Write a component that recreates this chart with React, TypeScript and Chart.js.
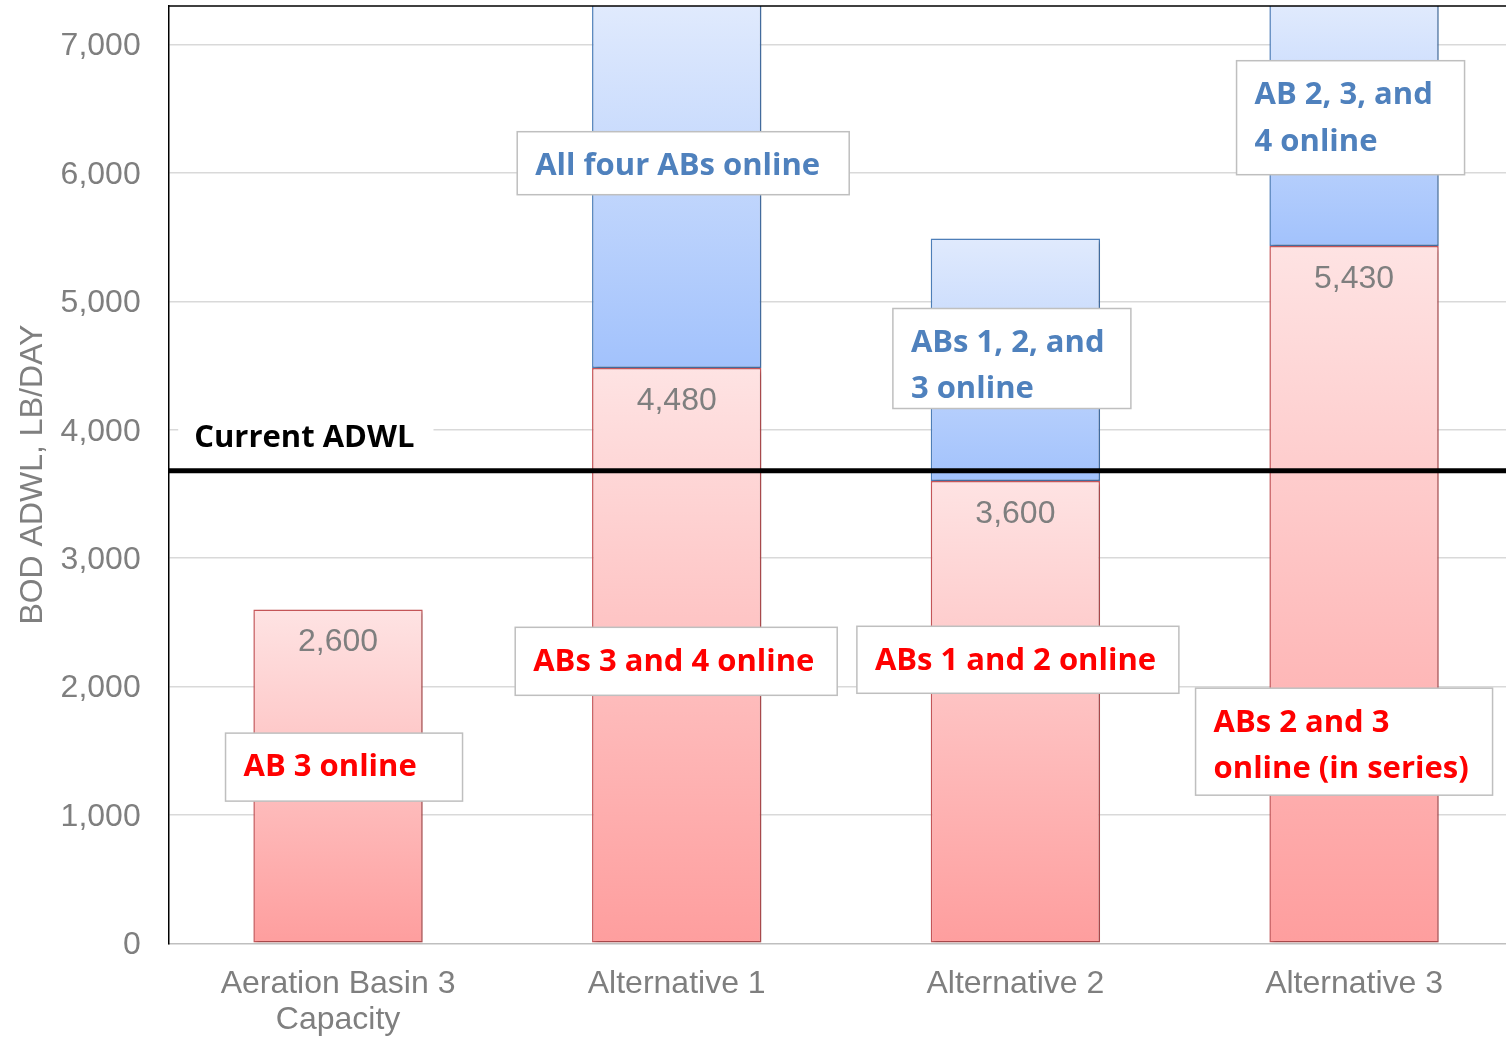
import React, { useEffect, useRef } from "react";
import { Chart, registerables } from "chart.js";

Chart.register(...registerables);

// ---------- data ----------
const CATEGORIES: (string | string[])[] = [
  ["Aeration Basin 3", "Capacity"],
  "Alternative 1",
  "Alternative 2",
  "Alternative 3",
];
const ONLINE_CAPACITY = [2600, 4480, 3600, 5430];
const ADDITIONAL_CAPACITY: (number | null)[] = [null, 3000, 1890, 2000];
const CURRENT_ADWL = 3680;
const Y_MIN = 0;
const Y_MAX = 7300;
const Y_TICKS = [0, 1000, 2000, 3000, 4000, 5000, 6000, 7000];
const Y_TITLE = "BOD ADWL, LB/DAY";
const ADWL_LABEL = "Current ADWL";

const RED_TEXT = "#ff0000";
const BLUE_TEXT = "#4f81bd";

// annotation boxes: anchored to a category and a value (box top), px offsets for layout
const NOTES = [
  { cat: 0, value: 1637, dx: -112.5, w: 237, h: 68, lines: ["AB 3 online"], color: RED_TEXT },
  { cat: 1, value: 6321, dx: -159.5, w: 332, h: 63, lines: ["All four ABs online"], color: BLUE_TEXT },
  { cat: 1, value: 2461, dx: -161.5, w: 322, h: 68, lines: ["ABs 3 and 4 online"], color: RED_TEXT },
  { cat: 2, value: 2469, dx: -158.5, w: 322, h: 67, lines: ["ABs 1 and 2 online"], color: RED_TEXT },
  { cat: 2, value: 4944, dx: -122.5, w: 238, h: 100, lines: ["ABs 1, 2, and", "3 online"], color: BLUE_TEXT },
  { cat: 3, value: 6874, dx: -117.5, w: 228, h: 114, lines: ["AB 2, 3, and", "4 online"], color: BLUE_TEXT },
  { cat: 3, value: 1987, dx: -158.5, w: 297, h: 107, lines: ["ABs 2 and 3", "online (in series)"], color: RED_TEXT },
];

const SANS = "'Liberation Sans', Arial, sans-serif";
const BOLD = "'Open Sans', 'DejaVu Sans', sans-serif";
const GRAY = "#7f7f7f";

function makeGradient(chart: any, yTop: number, yBottom: number, c1: string, c2: string) {
  const g = chart.ctx.createLinearGradient(0, yTop, 0, yBottom);
  g.addColorStop(0, c1);
  g.addColorStop(1, c2);
  return g;
}

const shadowPlugin = {
  id: "barShadow",
  beforeDatasetDraw(chart: any) {
    const ctx = chart.ctx;
    ctx.save();
    ctx.shadowColor = "rgba(0,0,0,0.22)";
    ctx.shadowBlur = 4;
    ctx.shadowOffsetX = 2;
    ctx.shadowOffsetY = 2;
  },
  afterDatasetDraw(chart: any) {
    chart.ctx.restore();
  },
};

const overlayPlugin = {
  id: "overlay",
  afterDatasetsDraw(chart: any) {
    const ctx = chart.ctx;
    const area = chart.chartArea;
    const y = chart.scales.y;
    ctx.save();
    // top border
    ctx.strokeStyle = "#000";
    ctx.lineWidth = 1.5;
    ctx.beginPath();
    ctx.moveTo(area.left, area.top);
    ctx.lineTo(area.right, area.top);
    ctx.stroke();

    // data labels
    const meta = chart.getDatasetMeta(0);
    ctx.font = `32px ${SANS}`;
    ctx.fillStyle = GRAY;
    ctx.textAlign = "center";
    ctx.textBaseline = "middle";
    meta.data.forEach((bar: any, i: number) => {
      ctx.fillText(ONLINE_CAPACITY[i].toLocaleString("en-US"), bar.x, bar.y + 33);
    });

    // current ADWL line
    const ly = y.getPixelForValue(CURRENT_ADWL);
    ctx.strokeStyle = "#000";
    ctx.lineWidth = 5;
    ctx.beginPath();
    ctx.moveTo(area.left, ly);
    ctx.lineTo(area.right, ly);
    ctx.stroke();

    ctx.font = `bold 31px ${BOLD}`;
    const tw = ctx.measureText(ADWL_LABEL).width;
    const cy = ly - 33;
    ctx.fillStyle = "#fff";
    ctx.fillRect(area.left + 9.5, cy - 20, tw + 35, 40);
    ctx.fillStyle = "#000";
    ctx.textAlign = "left";
    ctx.fillText(ADWL_LABEL, area.left + 25.5, cy);
    ctx.restore();
  },
  afterDraw(chart: any) {
    const ctx = chart.ctx;
    const x = chart.scales.x;
    const y = chart.scales.y;
    ctx.save();
    NOTES.forEach((n) => {
      const left = x.getPixelForValue(n.cat) + n.dx;
      const top = y.getPixelForValue(n.value);
      ctx.fillStyle = "#fff";
      ctx.fillRect(left, top, n.w, n.h);
      ctx.strokeStyle = "#bfbfbf";
      ctx.lineWidth = 1.5;
      ctx.strokeRect(left, top, n.w, n.h);
      ctx.font = `bold 31px ${BOLD}`;
      ctx.fillStyle = n.color;
      ctx.textAlign = "left";
      ctx.textBaseline = "middle";
      n.lines.forEach((line, i) => {
        ctx.fillText(line, left + 18, top + 34.5 + i * 46.5);
      });
    });
    ctx.restore();
  },
};

export default function App() {
  const ref = useRef<HTMLCanvasElement | null>(null);

  useEffect(() => {
    if (!ref.current) return;
    const chart = new Chart(ref.current, {
      type: "bar",
      data: {
        labels: CATEGORIES as any,
        datasets: [
          {
            label: "Online",
            data: ONLINE_CAPACITY,
            backgroundColor: (c: any) => {
              const chart = c.chart;
              const ys = chart.scales?.y;
              if (c.type !== "data" || !ys || !chart.chartArea) return "#fdc0c0";
              const top = ys.getPixelForValue(ONLINE_CAPACITY[c.dataIndex]);
              const bot = ys.getPixelForValue(0);
              return makeGradient(chart, top, bot, "#fee3e3", "#fe9e9e");
            },
            borderColor: "#c9575a",
            borderWidth: 1.5,
            borderSkipped: false,
            stack: "s",
          },
          {
            label: "Additional",
            data: ADDITIONAL_CAPACITY,
            backgroundColor: (c: any) => {
              const chart = c.chart;
              const ys = chart.scales?.y;
              if (c.type !== "data" || !ys || !chart.chartArea) return "#c0d4fd";
              const base = ONLINE_CAPACITY[c.dataIndex];
              const add = (ADDITIONAL_CAPACITY[c.dataIndex] || 0) as number;
              const bot = ys.getPixelForValue(base);
              const top = Math.max(ys.getPixelForValue(base + add), chart.chartArea.top);
              return makeGradient(chart, top, bot, "#e0eafd", "#a2c2fc");
            },
            borderColor: "#4f81bd",
            borderWidth: 1.5,
            borderSkipped: false,
            stack: "s",
          },
        ],
      },
      options: {
        responsive: false,
        animation: false,
        layout: { padding: { top: 6, right: 6.6, bottom: 0, left: 0 } },
        datasets: { bar: { categoryPercentage: 1, barPercentage: 0.5 } },
        plugins: {
          legend: { display: false },
          tooltip: { enabled: false },
          title: { display: false },
        },
        scales: {
          x: {
            stacked: true,
            grid: { display: false, drawTicks: false },
            border: { display: true, color: "#bfbfbf", width: 1.5 },
            ticks: {
              color: GRAY,
              font: { family: SANS, size: 32, lineHeight: 1.15 },
              padding: 22,
              maxRotation: 0,
              autoSkip: false,
            },
            afterFit: (s: any) => {
              s.height = 94.7;
              s.paddingLeft = 0;
              s.paddingRight = 0;
            },
          },
          y: {
            stacked: true,
            min: Y_MIN,
            max: Y_MAX,
            grid: {
              color: (c: any) => (c.tick && c.tick.value === 0 ? "rgba(0,0,0,0)" : "#d9d9d9"),
              lineWidth: 1.5,
              drawTicks: false,
            },
            border: { display: true, color: "#000", width: 1.5 },
            ticks: {
              color: GRAY,
              font: { family: SANS, size: 32 },
              padding: 28,
              labelOffset: 2,
              callback: (v: any) => Number(v).toLocaleString("en-US"),
            },
            afterBuildTicks: (s: any) => {
              s.ticks = Y_TICKS.map((v) => ({ value: v }));
            },
            title: {
              display: true,
              text: Y_TITLE,
              color: GRAY,
              font: { family: SANS, size: 32, lineHeight: 1.2 },
              padding: { top: 14, bottom: 0 },
            },
            afterFit: (s: any) => {
              s.width = 168.7;
              s.paddingTop = 0;
              s.paddingBottom = 0;
            },
          },
        },
      },
      plugins: [shadowPlugin, overlayPlugin],
    });
    return () => chart.destroy();
  }, []);

  return (
    <div
      style={{
        position: "absolute",
        left: 0,
        top: 0,
        width: 1506,
        height: 1038,
        overflow: "hidden",
        background: "#fff",
      }}
    >
      <canvas ref={ref} width={1530} height={1038} style={{ width: 1530, height: 1038, display: "block" }} />
    </div>
  );
}
